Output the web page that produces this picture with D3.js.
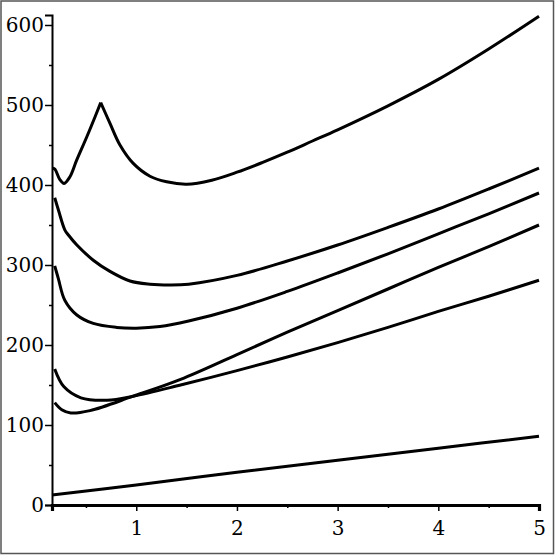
<!DOCTYPE html>
<html lang="en">
<head>
<meta charset="utf-8">
<title>Curves</title>
<script src="https://d3js.org/d3.v7.min.js"></script>
<style>
  body { margin: 0; background: #fff; }
  .tick text { font-family: "DejaVu Serif", serif; font-size: 20px; fill: #000; }
</style>
</head>
<body>
<script>
// values, one pair of arrays per curve
var topX   = [0.17, 0.193, 0.24, 0.283, 0.34, 0.408, 0.508, 0.59, 0.647, 0.739, 0.838, 0.97, 1.136, 1.302, 1.5, 1.75, 2, 2.25, 2.5, 2.75, 3, 3.5, 4, 4.5, 5];
var topY   = [421, 419.6, 407, 402, 410, 431, 460, 485, 503, 477, 450, 427, 411, 404, 401, 406, 416, 428, 441, 455, 469, 499, 532, 570, 611];
var topCusp = 0.647;

var c5X = [0.19, 0.226, 0.29, 0.326, 0.41, 0.573, 0.739, 0.937, 1.136, 1.334, 1.52, 2, 2.5, 3, 3.5, 4, 4.5, 5];
var c5Y = [384, 369, 344, 337.5, 325, 306, 292, 280, 276, 275, 276, 287, 305, 325, 347, 370, 395, 421];

var c4X = [0.19, 0.226, 0.29, 0.41, 0.573, 0.805, 1.0, 1.235, 1.52, 2, 2.5, 3, 3.5, 4, 4.5, 5];
var c4Y = [299, 283, 256, 237.5, 227, 222, 221, 223, 230, 246, 267, 290, 314, 339, 364, 390];

var c3X = [0.19, 0.26, 0.35, 0.54, 0.97, 1.44, 2, 2.5, 3, 3.5, 4, 4.5, 5];
var c3Y = [128, 119, 115, 118, 136, 157, 188, 216, 243, 270, 297, 323, 350];

var c2X = [0.19, 0.28, 0.45, 0.71, 0.97, 1.44, 2, 2.5, 3, 3.5, 4, 4.5, 5];
var c2Y = [170, 148, 134, 131, 136, 150, 168, 185, 203, 222, 242, 261, 281];

var c1X = [0.163, 1, 2, 3, 4, 5];
var c1Y = [12.5, 25, 41, 56, 71, 86];

var xTicks = [0.5, 1, 1.5, 2, 2.5, 3, 3.5, 4, 4.5, 5];
var yTicks = d3.range(0, 601, 50);

var W = 555, H = 555;
var svg = d3.select("body").append("svg")
  .attr("width", W)
  .attr("height", H);

svg.append("rect")
  .attr("x", 1).attr("y", 1)
  .attr("width", W - 2.5).attr("height", H - 2.5)
  .attr("fill", "#fff")
  .attr("stroke", "#555")
  .attr("stroke-width", 1.5);

var x = d3.scaleLinear().domain([0.163, 5]).range([52, 539]);
var y = d3.scaleLinear().domain([0, 612.5]).range([505, 15]);

// y axis
var yAxis = svg.append("g")
  .attr("transform", "translate(" + x(0.163) + ",0)")
  .call(d3.axisLeft(y).tickValues(yTicks).tickSizeOuter(0).tickSize(7).tickPadding(1)
    .tickFormat(d => d % 100 === 0 ? d : ""));
yAxis.select(".domain").attr("stroke", "#000").attr("stroke-width", 2);
yAxis.selectAll(".tick line").attr("stroke-width", 1.5)
  .attr("x2", d => d % 100 === 0 ? -7 : -3);

// x axis
var xAxis = svg.append("g")
  .attr("transform", "translate(0," + y(0) + ")")
  .call(d3.axisBottom(x).tickValues(xTicks.filter(d => d > 0.163)).tickSizeOuter(0).tickSize(6).tickPadding(10)
    .tickFormat(d => Number.isInteger(d) ? d : ""));
xAxis.select(".domain").attr("stroke", "#000").attr("stroke-width", 3.2);
xAxis.selectAll(".tick line").attr("stroke-width", 1.5)
  .attr("y2", d => Number.isInteger(d) ? 6 : 3);

var line = d3.line()
  .x(d => x(d[0]))
  .y(d => y(d[1]))
  .curve(d3.curveCatmullRom.alpha(0.5));

function pts(xs, ys) { return xs.map((v, i) => [v, ys[i]]); }

var topPts = pts(topX, topY);
var curves = [
  topPts.filter(p => p[0] <= topCusp),
  topPts.filter(p => p[0] >= topCusp),
  pts(c5X, c5Y),
  pts(c4X, c4Y),
  pts(c3X, c3Y),
  pts(c2X, c2Y),
  pts(c1X, c1Y)
];

svg.selectAll("path.curve")
  .data(curves)
  .enter()
  .append("path")
    .attr("class", "curve")
    .attr("d", line)
    .attr("fill", "none")
    .attr("stroke", "#000")
    .attr("stroke-width", 3);
</script>
</body>
</html>
